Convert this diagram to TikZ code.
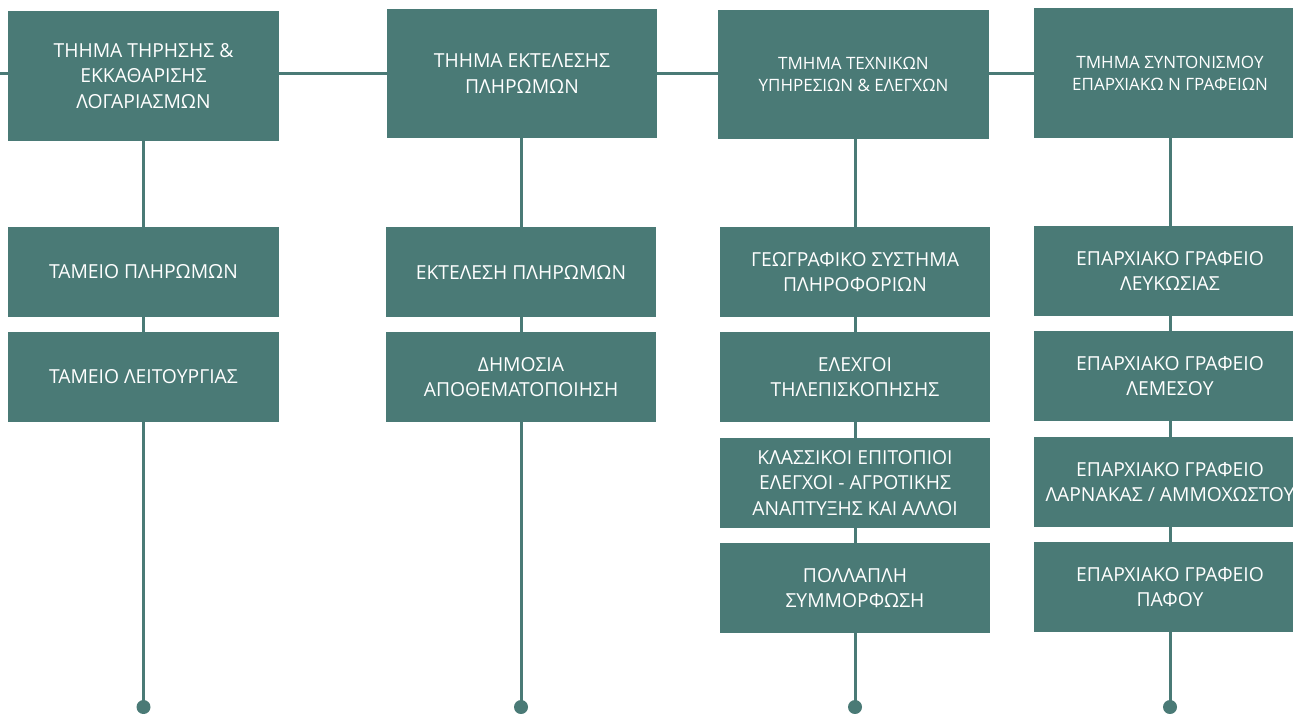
\documentclass[tikz,border=0pt]{standalone}
\usepackage{fontspec}
\setmainfont{Open Sans}
\definecolor{teal}{HTML}{4A7A76}
\begin{document}
\begin{tikzpicture}[x=1pt,y=-1pt,
  box/.style={fill=teal,draw=none,text=white,align=center,inner sep=0pt,
    minimum width=271pt,minimum height=90pt,font=\fontsize{19.3}{25.5}\selectfont},
  topbox/.style={box,minimum height=130pt},
  smalltop/.style={topbox,font=\fontsize{17}{22}\selectfont},
  link/.style={draw=teal,line width=3pt},
  dot/.style={circle,fill=teal,inner sep=0pt,minimum size=14pt}]
\clip (0,0) rectangle (1293,713);
\fill[white] (0,0) rectangle (1293,713);
% top row
\node[topbox] (t1) at (143.5,76) {ΤΗΗΜΑ ΤΗΡΗΣΗΣ \&\\ΕΚΚΑΘΑΡΙΣΗΣ\\ΛΟΓΑΡΙΑΣΜΩΝ};
\node[topbox,minimum width=270pt,minimum height=129pt] (t2) at (522,73.5) {ΤΗΗΜΑ ΕΚΤΕΛΕΣΗΣ\\ΠΛΗΡΩΜΩΝ};
\node[smalltop,minimum height=129pt] (t3) at (853.5,74.5) {ΤΜΗΜΑ ΤΕΧΝΙΚΩΝ\\ΥΠΗΡΕΣΙΩΝ \& ΕΛΕΓΧΩΝ};
\node[smalltop,minimum width=272pt] (t4) at (1170,73) {ΤΜΗΜΑ ΣΥΝΤΟΝΙΣΜΟΥ\\ΕΠΑΡΧΙΑΚΩ Ν ΓΡΑΦΕΙΩΝ};
% column 1
\node[box] (a1) at (143.5,272) {ΤΑΜΕΙΟ ΠΛΗΡΩΜΩΝ};
\node[box] (b1) at (143.5,377) {ΤΑΜΕΙΟ ΛΕΙΤΟΥΡΓΙΑΣ};
% column 2
\node[box,minimum width=270pt] (a2) at (521,272) {ΕΚΤΕΛΕΣΗ ΠΛΗΡΩΜΩΝ};
\node[box,minimum width=270pt] (b2) at (521,377) {ΔΗΜΟΣΙΑ\\ΑΠΟΘΕΜΑΤΟΠΟΙΗΣΗ};
% column 3
\node[box,minimum width=270pt] (a3) at (855,272) {ΓΕΩΓΡΑΦΙΚΟ ΣΥΣΤΗΜΑ\\ΠΛΗΡΟΦΟΡΙΩΝ};
\node[box,minimum width=270pt] (b3) at (855,377) {ΕΛΕΧΓΟΙ\\ΤΗΛΕΠΙΣΚΟΠΗΣΗΣ};
\node[box,minimum width=270pt] (c3) at (855,483) {ΚΛΑΣΣΙΚΟΙ ΕΠΙΤΟΠΙΟΙ\\ΕΛΕΓΧΟΙ - ΑΓΡΟΤΙΚΗΣ\\ΑΝΑΠΤΥΞΗΣ ΚΑΙ ΑΛΛΟΙ};
\node[box,minimum width=270pt] (e3) at (855,588) {ΠΟΛΛΑΠΛΗ\\ΣΥΜΜΟΡΦΩΣΗ};
% column 4
\node[box,minimum width=272pt] (a4) at (1170,271) {ΕΠΑΡΧΙΑΚΟ ΓΡΑΦΕΙΟ\\ΛΕΥΚΩΣΙΑΣ};
\node[box,minimum width=272pt] (b4) at (1170,376) {ΕΠΑΡΧΙΑΚΟ ΓΡΑΦΕΙΟ\\ΛΕΜΕΣΟΥ};
\node[box,minimum width=272pt] (c4) at (1170,482) {ΕΠΑΡΧΙΑΚΟ ΓΡΑΦΕΙΟ\\ΛΑΡΝΑΚΑΣ / ΑΜΜΟΧΩΣΤΟΥ};
\node[box,minimum width=272pt] (e4) at (1170,587) {ΕΠΑΡΧΙΑΚΟ ΓΡΑΦΕΙΟ\\ΠΑΦΟΥ};
% dots
\node[dot] (d1) at (143.5,707) {};
\node[dot] (d2) at (521,707) {};
\node[dot] (d3) at (855,707) {};
\node[dot] (d4) at (1170,707) {};
% horizontal line
\coordinate (lft) at (0,73.5);
\draw[link] (lft) -- (lft -| t1.west);
\draw[link] (t1.east |- lft) -- (t2.west |- lft);
\draw[link] (t2.east |- lft) -- (t3.west |- lft);
\draw[link] (t3.east |- lft) -- (t4.west |- lft);
% vertical connectors
\draw[link] (t1.south) -- (a1.north);
\draw[link] (a1.south) -- (b1.north);
\draw[link] (b1.south) -- (d1.center);
\draw[link] (t2.south -| a2) -- (a2.north);
\draw[link] (a2.south) -- (b2.north);
\draw[link] (b2.south) -- (d2.center);
\draw[link] (t3.south -| a3) -- (a3.north);
\draw[link] (a3.south) -- (b3.north);
\draw[link] (b3.south) -- (c3.north);
\draw[link] (c3.south) -- (e3.north);
\draw[link] (e3.south) -- (d3.center);
\draw[link] (t4.south) -- (a4.north);
\draw[link] (a4.south) -- (b4.north);
\draw[link] (b4.south) -- (c4.north);
\draw[link] (c4.south) -- (e4.north);
\draw[link] (e4.south) -- (d4.center);
\end{tikzpicture}
\end{document}
